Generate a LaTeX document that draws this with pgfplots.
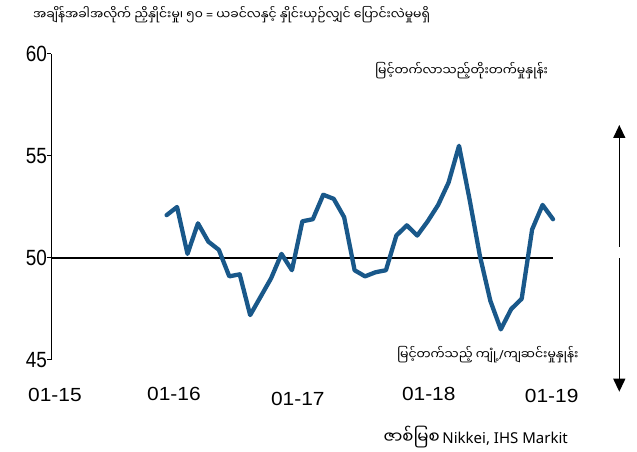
\documentclass[border=0pt]{standalone}
\usepackage{fontspec}
\usepackage{pgfplots}
\pgfplotsset{compat=1.18}
\usepackage{pgfplotstable}
\usetikzlibrary{arrows.meta}
\setmainfont{Liberation Sans}
\newfontfamily\ynum[FakeStretch=0.86]{Liberation Sans}
\newfontfamily\xnum[FakeStretch=1.1]{Liberation Sans}
\newfontfamily\mm[Script=Myanmar]{Noto Sans Myanmar UI}
\newfontfamily\lat{Noto Sans}
\definecolor{pmi}{RGB}{25,88,138}
\newcommand\tl[2]{\raisebox{#1bp}[0pt][0pt]{#2}}
\pgfplotstableread{
m v
0 52.1
1 52.5
2 50.2
3 51.7
4 50.8
5 50.4
6 49.1
7 49.2
8 47.2
9 48.1
10 49.0
11 50.2
12 49.4
13 51.8
14 51.9
15 53.1
16 52.9
17 52.0
18 49.4
19 49.1
20 49.3
21 49.4
22 51.1
23 51.6
24 51.1
25 51.8
26 52.6
27 53.7
28 55.5
29 52.9
30 50.1
31 47.9
32 46.5
33 47.5
34 48.0
35 51.4
36 52.6
37 51.9
}\pmidata
\begin{document}
\begin{tikzpicture}[x=1bp,y=1bp]
\path[use as bounding box] (0,0) rectangle (637,452);
\begin{axis}[
  at={(51bp,92bp)}, anchor=south west,
  scale only axis, width=502bp, height=306bp,
  xmin=-11.07, xmax=37.0, ymin=45, ymax=60,
  axis x line*=bottom, axis y line*=left,
  x axis line style={draw=none},
  y axis line style={black, line width=1bp},
  xtick={-10.69,0.70,12.56,25.10,36.87},
  xticklabels={\tl{0}{01-15},\tl{1}{01-16},\tl{-4}{01-17},\tl{1}{01-18},\tl{-1}{01-19}},
  xtick style={draw=none},
  xticklabel style={anchor=center, inner sep=0pt, yshift=-38bp, font=\fontsize{19bp}{19bp}\xnum},
  ytick={45,50,55,60},
  ytick style={black, line width=1bp},
  tick align=outside, major tick length=4bp,
  yticklabel style={anchor=east, inner sep=0pt, font=\fontsize{22bp}{22bp}\ynum},
  /pgf/number format/assume math mode=true,
  clip=false,
]
\addplot[black, line width=1.3bp] coordinates {(-11.07,50) (37,50)};
\addplot[pmi, line width=4.3bp, line join=round, line cap=round] table[x=m, y=v] {\pmidata};
\end{axis}
\node[anchor=west, inner sep=0pt, font={\fontsize{12.4bp}{14bp}\mm}] at (33,437) {အချိန်အခါအလိုက် ညှိနှိုင်းမှု၊ ၅၀ {\lat=} ယခင်လနှင့် နှိုင်းယှဉ်လျှင် ပြောင်းလဲမှုမရှိ};
\node[anchor=west, inner sep=0pt, font={\fontsize{12.5bp}{14bp}\mm}] at (375,381) {မြင့်တက်လာသည့်တိုးတက်မှုနှုန်း};
\node[anchor=west, inner sep=0pt, font={\fontsize{12.5bp}{14bp}\mm}] at (397,97) {မြင့်တက်သည့် ကျုံ့{\lat/}ကျဆင်းမှုနှုန်း};
\node[anchor=east, inner sep=0pt] at (568,15) {{\fontsize{16.5bp}{18bp}\mm ဇာစ်မြစ} {\fontsize{15bp}{18bp}\lat Nikkei, IHS Markit}};
\draw[line width=1.3bp, -{Triangle[width=12bp,length=13bp]}] (619.3,205.3) -- (619.3,327);
\draw[line width=1.3bp, -{Triangle[width=12bp,length=13bp]}] (619.3,193.7) -- (619.3,60.3);
\end{tikzpicture}
\end{document}
